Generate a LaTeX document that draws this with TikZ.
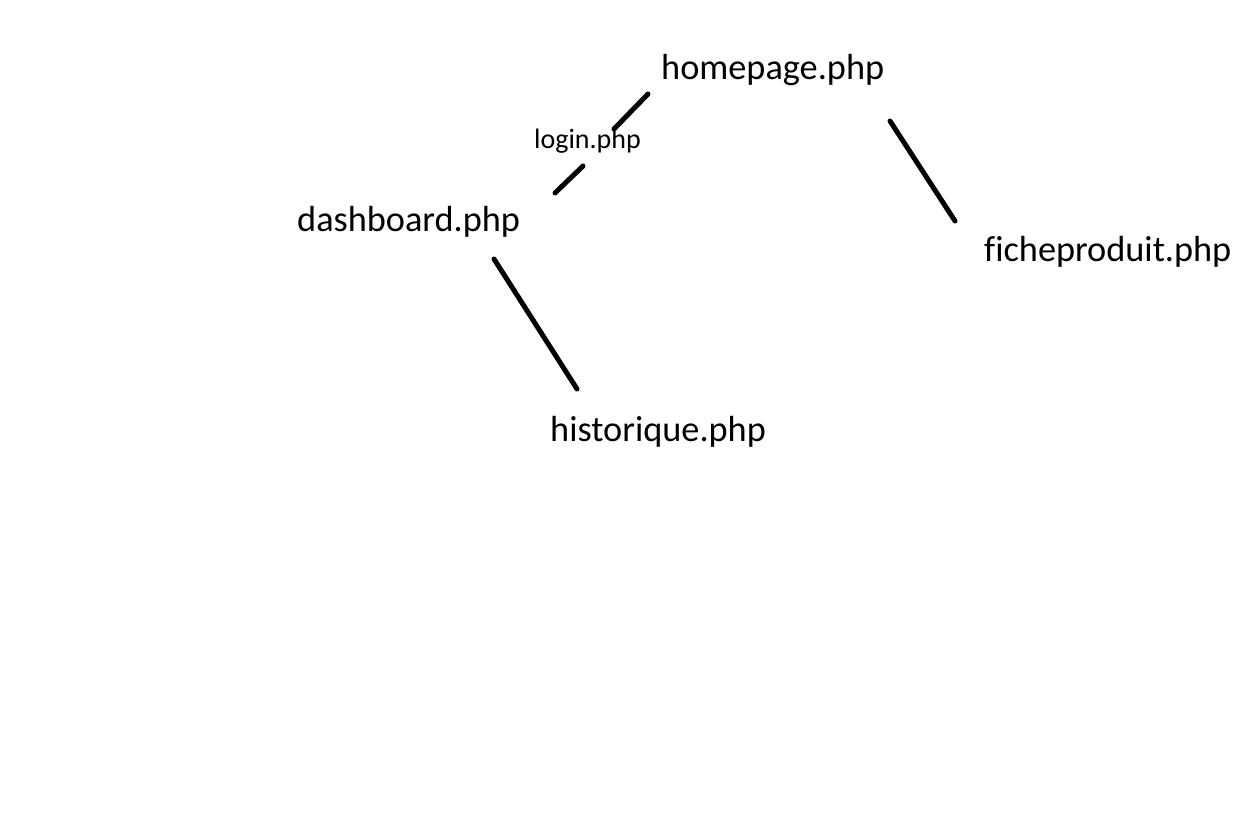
\documentclass[tikz,border=0pt]{standalone}
\usepackage{fontspec}
\setmainfont{Carlito}[Ligatures=CommonOff]
\begin{document}
\begin{tikzpicture}[x=1pt,y=-1pt,
  page/.style={anchor=base west,inner sep=0pt,font=\fontsize{36.3}{40}\selectfont},
  lbl/.style={anchor=base west,inner sep=0pt,font=\fontsize{28}{32}\selectfont},
  link/.style={line width=5pt,line cap=round}]
\useasboundingbox[fill=white] (0,0) rectangle (1248,818);
\node[page] (home) at (661,79.5) {homepage.php};
\node[page] (dash) at (297,232) {dashboard.php};
\node[page] (hist) at (550,441.5) {historique.php};
\node[page] (fiche) at (984,261.5) {ficheproduit.php};
\node[lbl] (login) at (534,149) {login.php};
\coordinate (h1) at (648,94);
\coordinate (l1) at (614,129);
\coordinate (l2) at (583,166);
\coordinate (d1) at (555,193);
\coordinate (d2) at (494,259);
\coordinate (hi1) at (577,389);
\coordinate (h2) at (890,121);
\coordinate (f1) at (955,221);
\draw[link] (h1) -- (l1);
\draw[link] (l2) -- (d1);
\draw[link] (d2) -- (hi1);
\draw[link] (h2) -- (f1);
\end{tikzpicture}
\end{document}
